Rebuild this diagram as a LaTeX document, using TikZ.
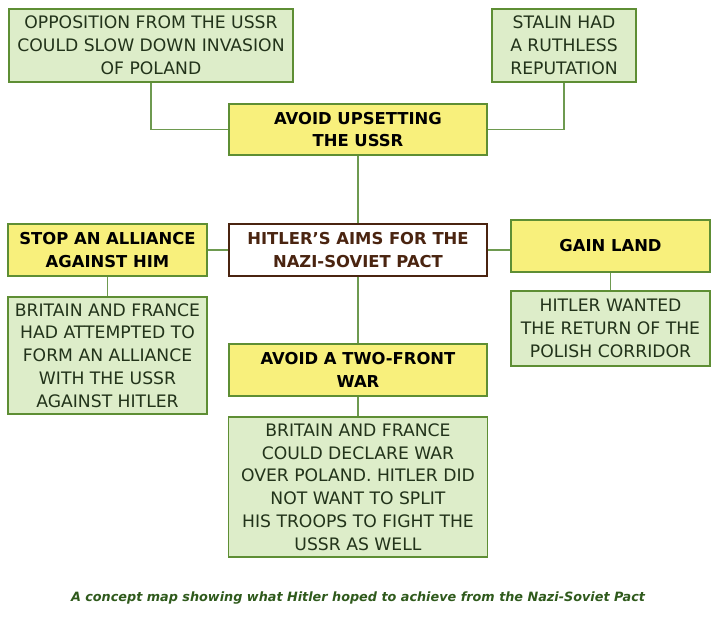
\documentclass[tikz,border=0pt]{standalone}
\usepackage{fontspec}
\setmainfont{DejaVu Sans}
\definecolor{gfill}{HTML}{DDEDC9}
\definecolor{yfill}{HTML}{F8F07C}
\definecolor{gline}{HTML}{5E8E34}
\definecolor{cline}{HTML}{6E9A50}
\definecolor{brown}{HTML}{4A2410}
\definecolor{gtext}{HTML}{22331A}
\definecolor{captc}{HTML}{2F5A1C}
\tikzset{
  gbox/.style={draw=gline, line width=1.2pt, fill=gfill, align=center, text=gtext, inner sep=0pt,
    font=\fontsize{17.2}{22.8}\selectfont},
  ybox/.style={draw=gline, line width=1.2pt, fill=yfill, align=center, text=black, inner sep=0pt,
    font=\fontsize{16.4}{22.8}\selectfont\bfseries},
  cbox/.style={draw=brown, line width=1.2pt, fill=white, align=center, text=brown, inner sep=0pt,
    font=\fontsize{16.4}{22.8}\selectfont\bfseries},
  conn/.style={draw=cline, line width=1.4pt},
}
\begin{document}
\begin{tikzpicture}[x=1pt,y=-1pt]
\useasboundingbox[fill=white] (0,0) rectangle (720,624);
\node[gbox, minimum width=284pt, minimum height=73pt] (opp) at (151,45.5)
  {OPPOSITION FROM THE USSR\\COULD SLOW DOWN INVASION\\OF POLAND};
\node[gbox, minimum width=144pt, minimum height=73pt] (stalin) at (564,45.5)
  {STALIN HAD\\A RUTHLESS\\REPUTATION};
\node[ybox, minimum width=258pt, minimum height=51pt] (avoidu) at (358,129.5)
  {AVOID UPSETTING\\THE USSR};
\node[cbox, minimum width=258pt, minimum height=52pt] (aims) at (358,250)
  {HITLER'S AIMS FOR THE\\NAZI-SOVIET PACT};
\node[ybox, minimum width=199pt, minimum height=52pt] (stop) at (107.5,250)
  {STOP AN ALLIANCE\\AGAINST HIM};
\node[ybox, minimum width=199pt, minimum height=52pt] (gain) at (610.5,246)
  {GAIN LAND};
\node[gbox, minimum width=199pt, minimum height=117pt] (brit) at (107.5,355.5)
  {BRITAIN AND FRANCE\\HAD ATTEMPTED TO\\FORM AN ALLIANCE\\WITH THE USSR\\AGAINST HITLER};
\node[gbox, minimum width=199pt, minimum height=75pt] (corr) at (610.5,328.5)
  {HITLER WANTED\\THE RETURN OF THE\\POLISH CORRIDOR};
\node[ybox, minimum width=258pt, minimum height=52pt] (two) at (358,370)
  {AVOID A TWO-FRONT\\WAR};
\node[gbox, minimum width=259pt, minimum height=140pt] (decl) at (358,487)
  {BRITAIN AND FRANCE\\COULD DECLARE WAR\\OVER POLAND. HITLER DID\\NOT WANT TO SPLIT\\HIS TROOPS TO FIGHT THE\\USSR AS WELL};
\node[text=captc, font=\fontsize{12.8}{15}\selectfont\bfseries\itshape] (cap) at (358,598)
  {A concept map showing what Hitler hoped to achieve from the Nazi-Soviet Pact};
\draw[conn] (opp.south) |- (avoidu.west);
\draw[conn] (stalin.south) |- (avoidu.east);
\draw[conn] (avoidu.south) -- (aims.north);
\draw[conn] (stop.east) -- (aims.west);
\draw[conn] (aims.east) -- (aims.east -| gain.west);
\draw[conn] (stop.south) -- (brit.north);
\draw[conn] (gain.south) -- (corr.north);
\draw[conn] (aims.south) -- (two.north);
\draw[conn] (two.south) -- (decl.north);
\end{tikzpicture}
\end{document}
